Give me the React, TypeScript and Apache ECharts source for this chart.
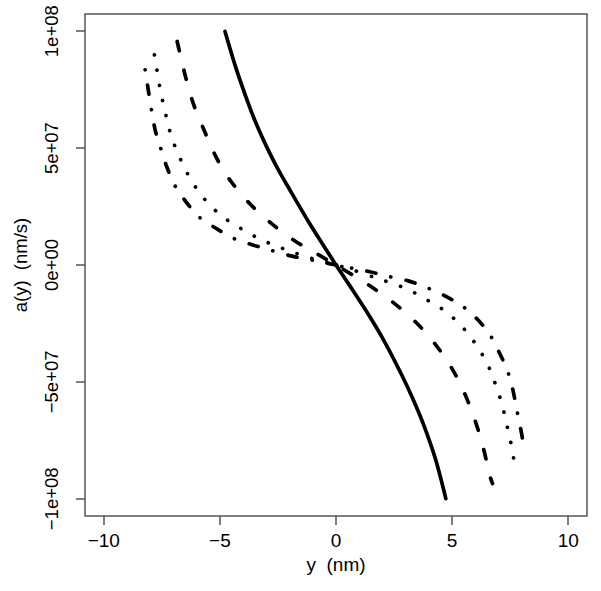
import React, { useEffect, useRef } from "react";
import * as echarts from "echarts";

// Tick positions and labels (R style)
const xTicks = [-10, -5, 0, 5, 10];
const xTickLabels = ["\u221210", "\u22125", "0", "5", "10"];
const yTicks = [-1e8, -5e7, 0, 5e7, 1e8];
const yTickLabels = ["\u22121e+08", "\u22125e+07", "0e+00", "5e+07", "1e+08"];

// Solid curve
const xSolid = [-4.78, -4.3, -3.81, -3.44, -2.96, -2.5, -2.01, -1.15, -0.29, 0, 0.57, 1.29, 2.01, 2.8, 3.3, 3.8, 4.3, 4.73];
const ySolid = [9.99e7, 8.4e7, 7.0e7, 6.05e7, 5.0e7, 4.1e7, 3.25e7, 1.8e7, 0.45e7, 0, -0.85e7, -1.95e7, -3.14e7, -4.64e7, -5.7e7, -6.9e7, -8.35e7, -9.99e7];

// Dashed curve
const xDashed = [-6.84, -6.49, -6.14, -5.67, -5.14, -4.52, -3.7, -2.76, -1.8, -0.72, 0, 0.6, 1.46, 2.51, 3.44, 4.27, 4.99, 5.55, 6.0, 6.35, 6.64, 6.74];
const yDashed = [9.56e7, 8.09e7, 6.89e7, 5.74e7, 4.57e7, 3.57e7, 2.61e7, 1.76e7, 1.05e7, 0.42e7, 0, -0.36e7, -0.89e7, -1.64e7, -2.45e7, -3.38e7, -4.42e7, -5.52e7, -6.68e7, -7.85e7, -9.06e7, -9.35e7];

// Dotted curve
const xDotted = [-7.82, -7.71, -7.61, -7.49, -7.35, -7.21, -7.03, -6.78, -6.53, -6.23, -5.88, -5.48, -5.02, -4.52, -3.99, -3.44, -2.87, -2.3, -1.72, -1.08, 0, 0.6, 1.86, 2.51, 3.08, 3.61, 4.16, 4.71, 5.17, 5.6, 5.98, 6.31, 6.6, 6.83, 7.03, 7.2, 7.34, 7.49, 7.6, 7.72];
const yDotted = [8.99e7, 8.35e7, 7.74e7, 7.12e7, 6.52e7, 5.91e7, 5.32e7, 4.71e7, 4.17e7, 3.61e7, 3.1e7, 2.61e7, 2.18e7, 1.81e7, 1.5e7, 1.19e7, 0.93e7, 0.71e7, 0.5e7, 0.29e7, 0, -0.17e7, -0.6e7, -0.81e7, -1.04e7, -1.31e7, -1.64e7, -1.97e7, -2.38e7, -2.83e7, -3.33e7, -3.85e7, -4.4e7, -5.0e7, -5.57e7, -6.16e7, -6.78e7, -7.39e7, -7.99e7, -8.63e7];

// Dot-dash curve
const xDotDash = [-8.22, -8.09, -7.95, -7.79, -7.56, -7.28, -6.93, -6.46, -5.88, -5.17, -4.42, -3.59, -2.84, -1.94, -0.58, 0, 1.46, 2.27, 3.11, 3.92, 4.71, 5.45, 6.1, 6.64, 7.03, 7.39, 7.62, 7.79, 7.96, 8.11];
const yDotDash = [8.35e7, 7.52e7, 6.66e7, 5.78e7, 5.02e7, 4.18e7, 3.38e7, 2.7e7, 2.04e7, 1.57e7, 1.14e7, 0.86e7, 0.64e7, 0.39e7, 0.12e7, 0, -0.29e7, -0.49e7, -0.68e7, -0.97e7, -1.33e7, -1.76e7, -2.33e7, -3.0e7, -3.74e7, -4.54e7, -5.35e7, -6.21e7, -7.03e7, -7.89e7];

const FONT = "'Liberation Sans', Arial, Helvetica, sans-serif";

const zip = (xs: number[], ys: number[]) => xs.map((x, i) => [x, ys[i]]);

const pick = (ticks: number[], labels: string[]) => (v: number) => {
  const i = ticks.findIndex((t) => Math.abs(t - v) < Math.abs(ticks[ticks.length - 1]) * 1e-6 + 1e-9);
  return i >= 0 ? labels[i] : "";
};

const lineSeries = (data: number[][], type: any) => ({
  type: "line",
  data,
  symbol: "none",
  showSymbol: false,
  smooth: 0.3,
  silent: true,
  lineStyle: { color: "#000", width: 3.7, type, cap: "round", join: "round" },
});

export default function App() {
  const ref = useRef<HTMLDivElement>(null);
  useEffect(() => {
    if (!ref.current) return;
    const chart = echarts.init(ref.current, undefined, { renderer: "svg" });
    chart.setOption({
      animation: false,
      backgroundColor: "#fff",
      grid: {
        left: 85,
        right: 14,
        top: 14,
        bottom: 75,
        show: true,
        borderColor: "#555",
        borderWidth: 1.5,
        containLabel: false,
        outerBoundsMode: "none",
      },
      xAxis: {
        type: "value",
        min: -10.81,
        max: 10.81,
        name: "y \u00a0(nm)",
        nameLocation: "middle",
        nameGap: 38,
        nameTextStyle: { color: "#000", fontSize: 19, fontFamily: FONT },
        axisLine: { show: false, onZero: false },
        splitLine: { show: false },
        axisTick: { show: true, length: 9, customValues: xTicks, lineStyle: { color: "#555", width: 1.5 } },
        axisLabel: {
          customValues: xTicks,
          formatter: pick(xTicks, xTickLabels),
          color: "#000",
          fontSize: 19,
          fontFamily: FONT,
          margin: 14.6,
        },
      },
      yAxis: {
        type: "value",
        min: -1.0735e8,
        max: 1.0735e8,
        name: "a(y) \u00a0(nm/s)",
        nameLocation: "middle",
        nameGap: 55,
        nameTextStyle: { color: "#000", fontSize: 18.5, fontFamily: FONT },
        axisLine: { show: false, onZero: false },
        splitLine: { show: false },
        axisTick: { show: true, length: 9, customValues: yTicks, lineStyle: { color: "#555", width: 1.5 } },
        axisLabel: {
          customValues: yTicks,
          formatter: pick(yTicks, yTickLabels),
          rotate: 90,
          color: "#000",
          fontSize: 18.5,
          fontFamily: FONT,
          margin: 24,
        },
      },
      series: [
        lineSeries(zip(xSolid, ySolid), "solid"),
        lineSeries(zip(xDashed, yDashed), [9.6, 19.9]),
        lineSeries(zip(xDotted, yDotted), [0.1, 15.4]),
        lineSeries(zip(xDotDash, yDotDash), [0.1, 15.3, 9.6, 15.3]),
      ],
    });
    return () => chart.dispose();
  }, []);
  return (
    <div
      ref={ref}
      style={{ position: "absolute", left: 0, top: 0, width: 601, height: 591, background: "#fff" }}
    />
  );
}
